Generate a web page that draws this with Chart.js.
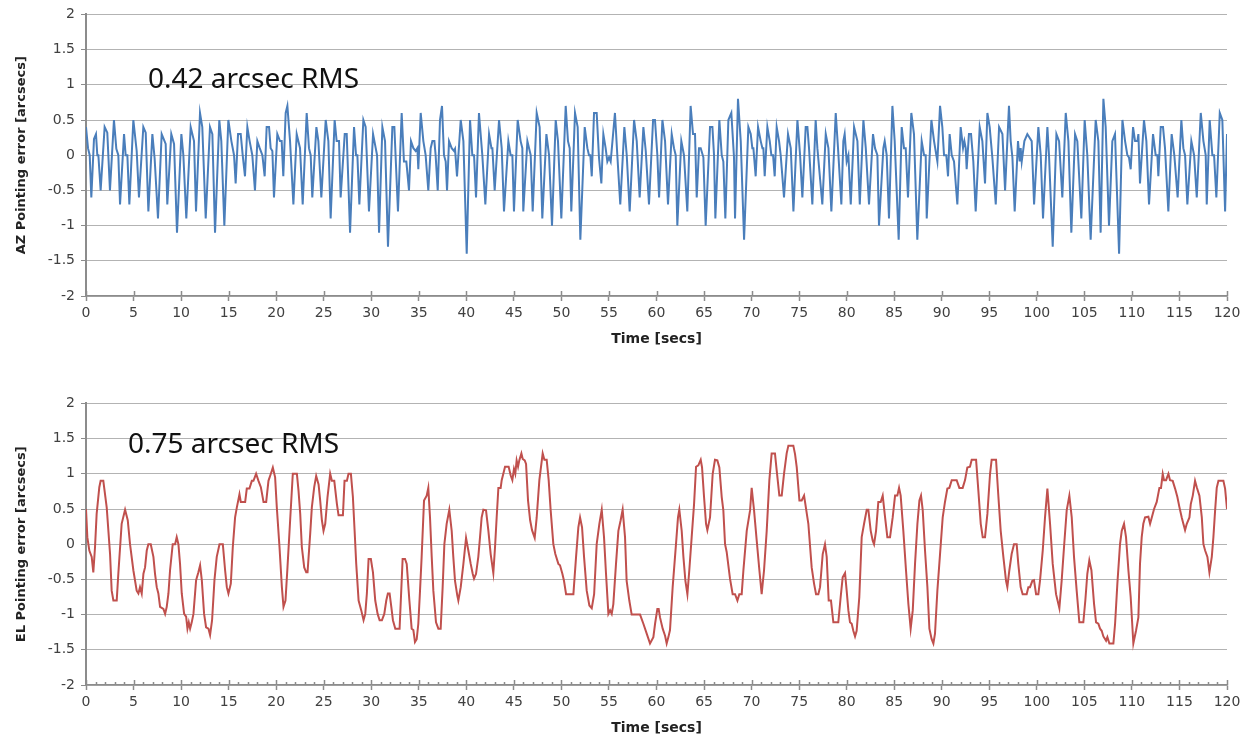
<!DOCTYPE html>
<html>
<head>
<meta charset="utf-8">
<script src="https://cdn.jsdelivr.net/npm/chart.js@4.4.1/dist/chart.umd.min.js"></script>
<style>
  body { margin: 0; background: #fff; }
  #page { position: relative; width: 1249px; height: 739px; overflow: hidden; }
  .box { position: absolute; left: 0; width: 1249px; height: 350px; }
  .rms { position: absolute; font-family: "Noto Sans", sans-serif; font-size: 28px; line-height: 30px; color: #111; white-space: nowrap; }
</style>
</head>
<body>
<div id="page">
  <div class="box" style="top:0"><canvas id="chart-az"></canvas></div>
  <div class="box" style="top:389px"><canvas id="chart-el"></canvas></div>
  <div class="rms" style="left:148px; top:62px">0.42 arcsec RMS</div>
  <div class="rms" style="left:128px; top:427px">0.75 arcsec RMS</div>
</div>
<script>
// AZ pointing error (arcsec) vs time (s)
const azTime = [0,0.21,0.39,0.56,0.84,1.05,1.19,1.3,1.54,1.96,2.24,2.52,2.94,3.19,3.4,3.58,4,4.17,4.35,4.56,4.98,5.33,5.57,6.03,6.28,6.56,6.98,7.22,7.57,7.96,8.38,8.55,8.97,9.26,9.57,10.03,10.24,10.55,11.01,11.36,11.57,11.99,12.23,12.59,13.04,13.29,13.57,14.02,14.23,14.55,14.97,15.29,15.57,15.74,15.99,16.27,16.48,16.72,16.97,17.21,17.49,17.77,18.02,18.27,18.55,18.79,19,19.25,19.42,19.6,19.77,20.12,20.4,20.58,20.75,21,21.18,21.46,21.81,22.16,22.51,22.79,23.21,23.45,23.63,23.8,24.23,24.44,24.75,25.21,25.49,25.73,26.15,26.36,26.61,26.78,27.21,27.42,27.77,28.19,28.4,28.54,28.75,29.17,29.41,29.76,
  30.19,30.47,30.61,30.82,31.17,31.45,31.76,32.22,32.43,32.81,33.2,33.44,33.69,33.97,34.18,34.43,34.67,34.85,34.95,35.2,35.48,35.72,36,36.25,36.43,36.64,36.77,36.99,37.23,37.44,37.65,37.83,37.97,38.18,38.46,38.7,38.81,39.02,39.41,39.69,40.04,40.39,40.63,40.81,41.02,41.33,41.68,42,42.39,42.64,42.74,42.98,43.44,43.72,43.96,44.42,44.66,44.84,45.01,45.4,45.71,45.89,45.99,46.42,46.77,46.98,47.4,47.71,47.99,48.42,48.7,49.01,49.4,49.64,49.99,50.45,50.69,50.87,51.04,51.43,51.71,51.99,52.45,52.73,52.9,53.04,53.19,53.43,53.71,53.95,54.2,54.41,54.65,54.83,55.01,55.18,55.63,55.88,56.19,56.62,56.87,57.18,57.64,57.92,58.23,58.62,58.87,59.21,59.64,59.84,
  60.09,60.27,60.62,60.9,61.21,61.6,61.84,62.02,62.19,62.61,62.89,63.24,63.59,63.84,64.05,64.23,64.47,64.65,64.93,65.17,65.63,65.88,66.05,66.19,66.61,66.86,67.03,67.24,67.56,67.87,68.15,68.26,68.57,68.86,69.21,69.66,69.91,70.08,70.19,70.43,70.68,70.96,71.14,71.24,71.38,71.66,71.91,72.08,72.26,72.43,72.64,72.89,73.06,73.41,73.83,74.12,74.4,74.82,75.1,75.34,75.69,75.87,76.04,76.39,76.74,76.92,77.44,77.8,78.08,78.39,78.85,79.09,79.44,79.65,79.79,80,80.18,80.43,80.78,81.13,81.38,81.76,82.01,82.35,82.77,82.98,83.23,83.4,83.86,84,84.21,84.45,84.81,85.05,85.47,85.79,86.03,86.21,86.45,86.8,87.08,87.43,87.89,88.14,88.31,88.42,88.91,89.19,89.54,89.82,
  90.06,90.24,90.48,90.66,90.83,91.05,91.29,91.64,91.99,92.24,92.38,92.52,92.62,92.86,93.08,93.32,93.57,93.99,94.27,94.55,94.8,95.04,95.32,95.68,96.03,96.38,96.66,97.07,97.25,97.43,97.67,98.02,98.2,98.3,98.41,98.69,99,99.46,99.71,100.16,100.41,100.65,101.11,101.28,101.67,102.06,102.34,102.68,103.04,103.32,103.63,104.02,104.26,104.68,105.03,105.31,105.66,106.19,106.47,106.71,107,107.24,107.59,107.94,108.22,108.65,109,109.28,109.52,109.69,109.87,110.12,110.33,110.58,110.68,110.85,111.27,111.52,111.8,112.22,112.5,112.68,112.78,113.03,113.27,113.48,113.83,114.18,114.46,114.81,115.2,115.41,115.59,115.83,116.25,116.54,116.82,117.24,117.52,117.76,117.87,118.18,118.46,118.64,118.88,119.24,119.51,119.8,120];
const azError = [0.4,0.1,0,-0.6,0.23,0.3,0,0,-0.5,0.4,0.32,-0.5,0.5,0.09,0,-0.7,0.3,0,0,-0.7,0.5,0.06,-0.6,0.4,0.32,-0.8,0.3,-0.05,-0.9,0.3,0.16,-0.7,0.3,0.16,-1.1,0.3,0,-0.9,0.4,0.2,-0.8,0.6,0.4,-0.9,0.4,0.3,-1.1,0.5,0.2,-1,0.5,0.2,0,-0.4,0.3,0.3,0,-0.3,0.4,0.2,0,-0.5,0.2,0.1,0,-0.3,0.4,0.4,0.1,0.06,-0.6,0.3,0.2,0.2,-0.3,0.6,0.7,0.2,-0.7,0.3,0.1,-0.7,0.6,0.1,0,-0.6,0.4,0.2,-0.6,0.5,0.2,-0.9,0.5,0.2,0.2,-0.6,0.3,0.3,-1.1,0.4,0,0,-0.7,0.5,0.4,-0.8,
  0.3,0.1,0,-1.1,0.4,0.2,-1.3,0.4,0.4,-0.8,0.6,-0.09,-0.09,-0.5,0.2,0.1,0.06,0.1,-0.2,0.6,0.2,0,-0.5,0.1,0.2,0.2,0,-0.5,0.5,0.7,0,-0.09,-0.5,0.2,0.1,0.06,0.09,-0.3,0.5,0.2,-1.4,0.5,0,0,-0.6,0.6,0,-0.7,0.3,0.1,0.1,-0.5,0.5,0.1,-0.8,0.2,0,0,-0.8,0.5,0.2,0.1,-0.8,0.2,0,-0.8,0.6,0.4,-0.9,0.3,0,-1,0.5,0.2,-0.9,0.7,0.2,0.1,-0.8,0.6,0.4,-1.2,0.4,0.1,0,0,-0.3,0.6,0.6,-0.03,-0.4,0.3,0.1,-0.09,-0.03,-0.09,0.6,0,-0.7,0.4,0,-0.8,0.5,0.2,-0.6,0.4,0.06,-0.7,0.5,0.5,
  0,-0.6,0.5,0.2,-0.7,0.3,0.1,0,-1,0.2,0,-0.8,0.7,0.3,0.3,-0.6,0.1,0.1,-0.03,-1,0.4,0.4,0,-0.9,0.5,0,-0.09,-0.9,0.5,0.6,-0.03,-0.9,0.8,0.2,-1.2,0.4,0.3,0.1,0.1,-0.3,0.4,0.2,0.1,0.1,-0.3,0.4,0.2,0,0,-0.3,0.4,0.2,0,-0.6,0.3,0.1,-0.8,0.5,0,-0.6,0.4,0.4,0.1,-0.7,0.5,0.1,-0.7,0.3,0.1,-0.8,0.6,0.1,-0.7,0.2,0.3,-0.09,0,-0.7,0.4,0.2,-0.7,0.5,0.1,-0.7,0.3,0.1,0,-1,0.1,0.2,0,-0.9,0.7,0.2,-1.2,0.4,0.1,0.1,-0.6,0.6,0.3,-1.2,0.2,0,0,-0.9,0.5,0.2,-0.09,0.7,
  0.4,0,0,-0.3,0.3,0,-0.09,-0.7,0.4,0.1,0.2,0.1,-0.2,0.3,0.3,-0.09,-0.8,0.4,0.2,-0.4,0.6,0.4,-0.03,-0.7,0.4,0.3,-0.5,0.7,0.2,-0.03,-0.8,0.2,-0.09,0.1,-0.09,0.2,0.3,0.2,-0.7,0.4,0,-0.9,0.4,0,-1.3,0.3,0.2,-0.6,0.6,0.2,-1.1,0.3,0.2,-0.9,0.5,0,-1.2,0.5,0.2,-1.1,0.8,0.4,-1,0.2,0.3,-1.4,0.5,0.2,0,-0.03,-0.2,0.4,0.2,0.2,0.3,-0.4,0.5,0.2,-0.7,0.3,0,0,-0.3,0.4,0.4,0.1,-0.8,0.3,0,-0.6,0.5,0.1,0,-0.7,0.2,0,-0.6,0.6,0.2,0,-0.7,0.5,0,0,-0.6,0.6,0.5,-0.8,0.3];

// EL pointing error (arcsec) vs time (s)
const elTime = [0,0.14,0.35,0.6,0.77,0.95,1.12,1.4,1.54,1.82,2.18,2.53,2.7,2.88,3.23,3.4,3.75,4.11,4.39,4.63,4.98,5.33,5.51,5.68,5.86,6.04,6.21,6.39,6.56,6.81,7.09,7.26,7.44,7.61,7.79,8.14,8.32,8.49,8.67,8.84,9.12,9.37,9.54,9.72,9.89,10.07,10.32,10.53,10.67,10.81,10.95,11.12,11.3,11.58,11.82,12,12.18,12.42,12.63,12.88,13.05,13.26,13.51,13.75,14.04,14.39,14.63,14.81,14.98,15.23,15.44,15.68,15.86,16.14,16.28,16.74,16.91,17.19,17.44,17.61,17.89,18.14,18.39,18.67,18.95,19.19,19.44,19.65,19.89,20.07,20.35,20.6,20.77,20.98,21.19,21.47,21.75,22.18,22.35,22.53,22.7,22.95,23.16,23.3,23.58,23.75,24,24.21,24.46,24.63,24.81,24.98,25.16,25.4,25.68,25.86,26.11,26.39,26.56,27.02,27.19,27.44,27.61,27.86,28.07,28.25,28.42,28.67,28.95,29.19,29.37,29.54,29.72,29.96,
  30.18,30.42,30.67,30.88,31.12,31.37,31.58,31.75,31.93,32.11,32.28,32.53,32.98,33.3,33.55,33.73,34.01,34.25,34.43,34.6,34.78,34.95,35.13,35.3,35.55,35.83,36,36.18,36.36,36.53,36.81,37.06,37.3,37.51,37.69,37.93,38.21,38.46,38.63,38.81,39.05,39.16,39.41,39.69,39.97,40.21,40.46,40.67,40.81,41.02,41.26,41.44,41.61,41.79,42.07,42.32,42.56,42.84,43.02,43.19,43.37,43.61,43.72,43.89,44.07,44.45,44.66,44.84,45.01,45.15,45.29,45.44,45.57,45.79,45.93,46.14,46.28,46.49,46.71,46.91,47.19,47.4,47.68,48.03,48.21,48.45,48.66,48.87,49.15,49.36,49.68,49.85,50.1,50.27,50.49,51.26,51.54,51.78,51.96,52.17,52.38,52.66,52.94,53.19,53.44,53.71,53.99,54.24,54.48,54.69,54.94,55.12,55.29,55.46,55.74,55.99,56.23,56.44,56.69,56.86,57.14,57.39,58.27,58.62,58.97,59.32,59.67,59.85,
  60.09,60.23,60.37,60.65,60.9,61.07,61.25,61.42,61.7,62.05,62.26,62.4,62.65,62.83,63.04,63.25,63.45,63.7,63.95,64.16,64.4,64.65,64.79,65,65.21,65.35,65.63,65.91,66.15,66.4,66.61,66.86,67.03,67.21,67.38,67.73,68.01,68.26,68.51,68.71,68.96,69.14,69.49,69.84,70.01,70.26,70.54,70.82,71.06,71.31,71.59,71.87,72.11,72.46,72.64,72.92,73.17,73.41,73.69,73.87,74.39,74.57,74.75,75.03,75.27,75.52,75.97,76.32,76.57,76.78,77.02,77.2,77.48,77.72,77.9,78.11,78.35,78.6,79.12,79.37,79.58,79.83,80,80.18,80.35,80.53,80.7,80.88,81.05,81.33,81.58,81.83,82.11,82.28,82.53,82.74,82.88,83.09,83.33,83.58,83.79,84.04,84.28,84.56,84.84,85.09,85.33,85.51,85.68,85.96,86.24,86.49,86.73,86.95,87.19,87.44,87.65,87.82,88,88.24,88.49,88.7,88.94,89.12,89.29,89.54,89.82,
  90.1,90.34,90.59,90.8,91.05,91.57,91.85,92.2,92.45,92.69,92.97,93.15,93.61,93.85,94.1,94.31,94.55,94.8,95.08,95.25,95.71,95.96,96.2,96.48,96.76,96.9,97.11,97.35,97.6,97.88,98.05,98.3,98.51,98.93,99.11,99.28,99.53,99.7,99.92,100.16,100.34,100.62,100.86,101.11,101.39,101.67,102.02,102.37,102.61,102.86,103.14,103.42,103.67,103.91,104.19,104.47,104.89,105.1,105.31,105.52,105.74,106.02,106.23,106.47,106.65,106.82,107,107.28,107.42,107.63,108.05,108.23,108.47,108.75,108.93,109.17,109.38,109.63,109.87,110.15,110.43,110.68,110.85,111.03,111.2,111.38,111.73,111.91,112.09,112.33,112.61,112.89,113.06,113.24,113.38,113.59,113.84,114.01,114.29,114.54,114.78,114.99,115.24,115.41,115.59,115.77,116.05,116.19,116.4,116.64,116.82,117.1,117.35,117.52,117.7,117.94,118.15,118.4,118.57,118.75,118.92,119.1,119.62,119.8,120];
const elError = [0.5,0.1,-0.09,-0.18,-0.4,-0.04,0.43,0.81,0.9,0.9,0.52,-0.14,-0.66,-0.8,-0.8,-0.42,0.29,0.49,0.34,0,-0.37,-0.66,-0.7,-0.61,-0.7,-0.42,-0.33,-0.09,0,0,-0.18,-0.42,-0.61,-0.7,-0.89,-0.92,-0.99,-0.89,-0.7,-0.37,0,0,0.1,0,-0.28,-0.7,-0.99,-1.03,-1.2,-1.11,-1.2,-1.11,-0.99,-0.51,-0.4,-0.3,-0.51,-0.99,-1.18,-1.2,-1.29,-1.08,-0.51,-0.18,0,0,-0.37,-0.61,-0.7,-0.56,-0.04,0.38,0.52,0.71,0.6,0.6,0.79,0.79,0.9,0.9,1,0.9,0.81,0.6,0.6,0.9,1,1.09,0.95,0.52,-0.04,-0.61,-0.89,-0.8,-0.33,0.34,1,1,0.76,0.43,-0.04,-0.33,-0.4,-0.4,0.15,0.52,0.81,0.97,0.85,0.62,0.34,0.19,0.29,0.67,1,0.9,0.9,0.57,0.41,0.41,0.9,0.9,1,1,0.67,0.19,-0.28,-0.8,-0.94,-1.08,-0.99,-0.7,-0.21,-0.21,
  -0.4,-0.8,-0.99,-1.08,-1.08,-0.99,-0.8,-0.7,-0.7,-0.89,-1.08,-1.2,-1.2,-0.21,-0.21,-0.28,-0.8,-1.2,-1.22,-1.39,-1.35,-1.13,-0.66,-0.18,0.62,0.69,0.8,0.38,-0.18,-0.66,-1.11,-1.2,-1.2,-0.61,0,0.29,0.49,0.19,-0.18,-0.52,-0.73,-0.8,-0.61,-0.28,0.09,-0.09,-0.28,-0.42,-0.49,-0.42,-0.18,0.1,0.38,0.49,0.48,0.19,-0.14,-0.41,-0.04,0.38,0.8,0.8,0.91,1,1.1,1.1,0.98,0.91,1.07,1,1.19,1.1,1.19,1.29,1.21,1.19,1.14,0.62,0.34,0.2,0.09,0.38,0.91,1.29,1.2,1.2,0.91,0.48,0,-0.14,-0.28,-0.3,-0.42,-0.52,-0.71,-0.71,-0.18,0.24,0.38,0.24,-0.18,-0.66,-0.87,-0.91,-0.71,0,0.29,0.49,0.1,-0.42,-0.99,-0.94,-0.99,-0.85,-0.28,0.19,0.34,0.49,0.1,-0.52,-0.8,-1,-1,-1.13,-1.27,-1.41,-1.32,-1.13,
  -0.92,-0.92,-1.04,-1.2,-1.3,-1.41,-1.32,-1.22,-0.61,0,0.38,0.49,0.19,-0.18,-0.52,-0.71,-0.37,0.1,0.57,1.1,1.12,1.2,1.09,0.67,0.29,0.2,0.38,1,1.2,1.19,1.09,0.67,0.48,0,-0.11,-0.49,-0.71,-0.71,-0.8,-0.71,-0.71,-0.37,0.19,0.48,0.8,0.48,0.05,-0.37,-0.71,-0.37,0.19,0.91,1.29,1.29,1.05,0.69,0.69,1,1.29,1.4,1.4,1.28,1.09,0.62,0.62,0.69,0.29,-0.33,-0.56,-0.71,-0.71,-0.61,-0.14,0,-0.18,-0.8,-0.8,-1.11,-1.11,-0.75,-0.47,-0.41,-0.66,-0.94,-1.11,-1.13,-1.23,-1.31,-1.23,-0.75,0.1,0.29,0.49,0.49,0.19,0.05,0,0.19,0.6,0.6,0.69,0.38,0.1,0.1,0.38,0.69,0.69,0.8,0.69,0.19,-0.37,-0.85,-1.2,-0.94,-0.28,0.29,0.62,0.69,0.48,-0.09,-0.61,-1.2,-1.35,-1.41,-1.27,-0.66,-0.14,
  0.38,0.6,0.79,0.8,0.91,0.91,0.8,0.8,0.91,1.09,1.1,1.2,1.2,0.76,0.29,0.1,0.1,0.43,1,1.2,1.2,0.67,0.19,-0.18,-0.52,-0.61,-0.37,-0.14,0,0,-0.28,-0.61,-0.71,-0.71,-0.61,-0.61,-0.52,-0.51,-0.71,-0.71,-0.51,-0.09,0.38,0.79,0.29,-0.28,-0.71,-0.91,-0.52,-0.04,0.48,0.69,0.38,-0.18,-0.66,-1.11,-1.11,-0.8,-0.42,-0.23,-0.37,-0.85,-1.11,-1.13,-1.2,-1.23,-1.31,-1.37,-1.32,-1.41,-1.41,-1.13,-0.56,0,0.19,0.29,0.1,-0.37,-0.75,-1.41,-1.23,-1.04,-0.28,0.1,0.29,0.38,0.39,0.29,0.38,0.5,0.6,0.8,0.8,1,0.91,0.91,1,0.91,0.9,0.79,0.67,0.53,0.38,0.29,0.2,0.29,0.38,0.57,0.69,0.9,0.81,0.69,0.38,0,-0.09,-0.18,-0.4,-0.18,0.1,0.48,0.8,0.9,0.9,0.79,0.5];

const xTicksMin = 0, xTicksMax = 120, xTickStep = 5;
const yTicksMin = -2, yTicksMax = 2, yTickStep = 0.5;

// marcas del eje X: la parte interior de las marcas principales + marcas menores
const axisMarks = {
  id: 'axisMarks',
  afterDatasetsDraw(chart, args, opts) {
    const xs = chart.scales.x;
    const ctx = chart.ctx;
    const y0 = chart.chartArea.bottom;
    ctx.save();
    ctx.strokeStyle = '#8c8c8c';
    ctx.lineWidth = 1.5;
    ctx.beginPath();
    xs.ticks.forEach(t => {
      const px = Math.round(xs.getPixelForValue(t.value)) + 0.5;
      ctx.moveTo(px, y0);
      ctx.lineTo(px, y0 - 5);
    });
    if (opts.minor) {
      for (let v = xs.min; v <= xs.max; v += opts.minor) {
        if (v % xTickStep === 0) continue;
        const px = Math.round(xs.getPixelForValue(v)) + 0.5;
        ctx.moveTo(px, y0);
        ctx.lineTo(px, y0 - 3);
      }
    }
    ctx.stroke();
    ctx.restore();
  }
};

function crearGrafica(id, tiempos, valores, color, tituloY, minor) {
  const ctx = document.getElementById(id);
  const tickFont = { family: 'DejaVu Sans', size: 14 };
  const titleFontX = { family: 'DejaVu Sans', size: 14, weight: 'bold' };
  const titleFontY = { family: 'DejaVu Sans', size: 13, weight: 'bold' };
  return new Chart(ctx, {
    type: 'line',
    data: {
      datasets: [{
        data: tiempos.map((t, i) => ({ x: t, y: valores[i] })),
        borderColor: color,
        borderWidth: 2,
        pointRadius: 0,
        tension: 0,
        fill: false
      }]
    },
    options: {
      responsive: true,
      maintainAspectRatio: false,
      animation: false,
      parsing: false,
      layout: { padding: { top: 14, right: 22, left: 6, bottom: 0 } },
      plugins: {
        legend: { display: false },
        tooltip: { enabled: false },
        axisMarks: { minor: minor }
      },
      scales: {
        x: {
          type: 'linear',
          min: xTicksMin,
          max: xTicksMax,
          ticks: { stepSize: xTickStep, autoSkip: false, maxRotation: 0, padding: 4, color: '#404040', font: tickFont },
          grid: { drawOnChartArea: false, drawTicks: true, tickLength: 5, color: '#8c8c8c', tickWidth: 1.5 },
          border: { color: '#8c8c8c', width: 1.5 },
          title: { display: true, text: 'Time [secs]', color: '#222', font: titleFontX, padding: { top: 0, bottom: 2 } },
          afterFit: s => { s.height = 54; }
        },
        y: {
          min: yTicksMin,
          max: yTicksMax,
          ticks: { stepSize: yTickStep, padding: 6, color: '#404040', font: tickFont, callback: v => String(v) },
          grid: { color: '#b3b3b3', lineWidth: 1, drawTicks: true, tickLength: 5, tickColor: '#8c8c8c' },
          border: { color: '#8c8c8c', width: 2 },
          title: { display: true, text: tituloY, color: '#222', font: titleFontY, padding: { top: 8, bottom: 0 } },
          afterFit: s => { s.width = 80; }
        }
      }
    },
    plugins: [axisMarks]
  });
}

crearGrafica('chart-az', azTime, azError, '#4a7ebb', 'AZ Pointing error [arcsecs]', 0);
crearGrafica('chart-el', elTime, elError, '#c0504d', 'EL Pointing error [arcsecs]', 1);
</script>
</body>
</html>
